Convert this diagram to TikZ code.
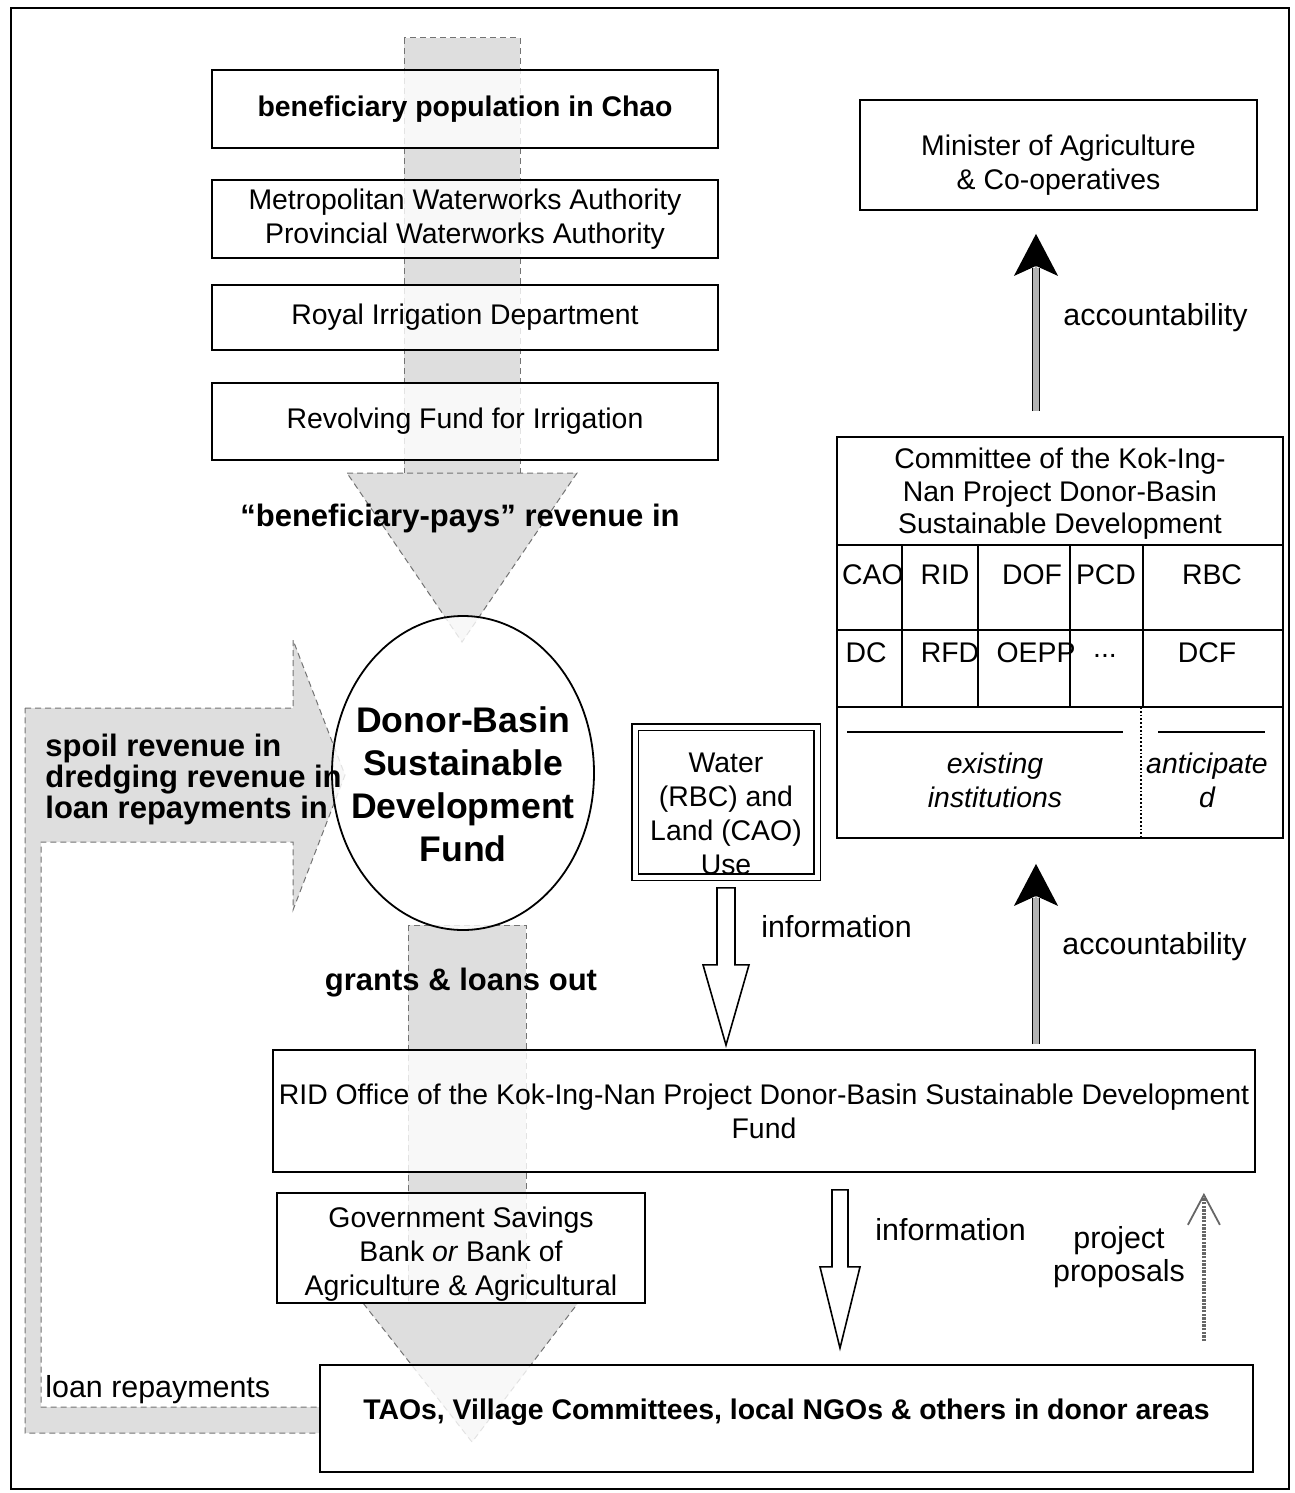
\documentclass[tikz,border=0pt]{standalone}
\usepackage{fontspec}
\setmainfont{Liberation Sans}
\usepackage{tikz}
\usetikzlibrary{arrows.meta,calc,shapes.geometric}

\tikzset{
  box/.style={draw, line width=0.9pt, fill=white, fill opacity=0.8, text opacity=1, align=center, inner sep=0pt, font=\fontsize{14.2}{17}\selectfont},
  boldbox/.style={box, font=\bfseries\fontsize{14.2}{17}\selectfont},
  flow/.style={fill=black!13, draw=black!55, densely dashed, line width=0.5pt},
  flowtext/.style={inner sep=0pt, font=\bfseries\fontsize{15.5}{15.5}\selectfont},
  note/.style={inner sep=0pt, font=\fontsize{15.2}{16.5}\selectfont},
  cell/.style={inner sep=0pt, align=center, font=\fontsize{14.2}{17}\selectfont},
  hollow/.style={draw, line width=0.8pt, fill=white},
  accshaft/.style={draw, line width=0.7pt, double=black!30, double distance=3pt},
  acchead/.style={draw=black!30, line width=0.7pt, -{Stealth[length=21pt,width=22pt,inset=5pt,color=black]}},
  proposal/.style={draw=black!60, line width=1.8pt, dash pattern=on 1.2pt off 0.6pt, -{Straight Barb[length=15pt,width=16pt,line width=0.9pt]}}
}

\begin{document}
\begin{tikzpicture}[x=0.5pt,y=-0.5pt]
  \useasboundingbox (0,0) rectangle (1295,1493);
  \draw[line width=1.2pt] (11,8) rectangle (1289,1489);

  % money running down the middle
  \draw[flow] (404,38) rectangle (520,473);
  \draw[flow] (347,473) -- (577,473) -- (462,642) -- cycle;
  \draw[flow] (408,925) rectangle (526,1303);
  \draw[flow] (363,1303) -- (578,1303) -- (472,1442) -- cycle;
  % revenue in from the left, loan repayments back round
  \draw[flow] (25,708) -- (293,708) -- (293,640) -- (345,775) -- (293,910) -- (293,842) -- (41,842) -- (41,1407) -- (320,1407) -- (320,1433) -- (25,1433) -- cycle;

  \node[boldbox, minimum width=253pt, minimum height=39pt] (benef) at (465,109) {beneficiary population in Chao};
  \node[box, minimum width=253pt, minimum height=39pt] (waterworks) at (465,219) {Metropolitan Waterworks Authority\\Provincial Waterworks Authority};
  \node[box, minimum width=253pt, minimum height=32.5pt] (riddept) at (465,317.5) {Royal Irrigation Department};
  \node[box, minimum width=253pt, minimum height=38.5pt] (revolving) at (465,421.5) {Revolving Fund for Irrigation};

  \node[flowtext] (benpays) at (460,518) {“beneficiary-pays” revenue in};

  \node[ellipse, draw, line width=0.9pt, fill=white, fill opacity=0.8, text opacity=1, minimum width=131pt, minimum height=157pt, inner xsep=-12pt, inner ysep=0pt, align=center, font=\bfseries\fontsize{17.8}{21.5}\selectfont] (fund) at (463,773) {\rule{0pt}{23.8pt}Donor-Basin\\Sustainable\\Development\\Fund};

  \node[flowtext, anchor=west, align=left] (inflow) at (45,779) {spoil revenue in\\dredging revenue in\\loan repayments in};
  \node[flowtext] (grants) at (461,983) {grants \& loans out};
  \node[note, anchor=west] (loanrep) at (45,1390) {loan repayments};

  \node[box, double, double distance=2.5pt, line width=0.8pt, fill opacity=1, minimum width=91pt, minimum height=75pt] (water) at (726,802) {\rule{0pt}{22pt}Water\\(RBC) and\\Land (CAO)\\Use};

  \node[box, minimum width=491pt, minimum height=61pt] (ridoffice) at (764,1111) {RID Office of the Kok-Ing-Nan Project Donor-Basin Sustainable Development\\Fund};
  \node[box, minimum width=184pt, minimum height=55pt] (bank) at (461,1248) {\rule{0pt}{16pt}Government Savings\\Bank \textit{or} Bank of\\Agriculture \& Agricultural};
  \node[boldbox, minimum width=466.5pt, minimum height=53.5pt, text depth=9pt] (taos) at (786.5,1418.5) {TAOs, Village Committees, local NGOs \& others in donor areas};

  \node[box, minimum width=198.5pt, minimum height=55pt] (minister) at (1058.5,155) {\rule{0pt}{20.4pt}Minister of Agriculture\\\& Co-operatives};

  % committee table
  \node[draw, line width=0.9pt, minimum width=223pt, minimum height=200.5pt, inner sep=0pt] (committee) at (1060,637.5) {};
  \node[cell, font=\fontsize{14.2}{16.3}\selectfont] (comhead) at (1060,494) {Committee of the Kok-Ing-\\Nan Project Donor-Basin\\Sustainable Development};
  \draw[line width=0.9pt] (837,545) -- (1283,545) (837,630) -- (1283,630) (837,707) -- (1283,707);
  \draw[line width=0.9pt] (902,545) -- (902,707) (978,545) -- (978,707) (1070,545) -- (1070,707) (1143,545) -- (1143,707);
  \draw[line width=0.9pt, densely dotted] (1141,707) -- (1141,838);
  \draw[line width=0.6pt] (847,732) -- (1123,732) (1158,732) -- (1265,732);
  \node[cell] (cao) at (873,575) {CAO};
  \node[cell] (rid) at (945,575) {RID};
  \node[cell] (dof) at (1032,575) {DOF};
  \node[cell] (pcd) at (1106,575) {PCD};
  \node[cell] (rbc) at (1212,575) {RBC};
  \node[cell] (dc) at (866,653) {DC};
  \node[cell] (rfd) at (950,653) {RFD};
  \node[cell] (oepp) at (1036,653) {OEPP};
  \node[cell] (more) at (1105,656) {...};
  \node[cell] (dcf) at (1207,653) {DCF};
  \node[cell, font=\itshape\fontsize{14.2}{17}\selectfont] (existing) at (995,780) {existing\\institutions};
  \node[cell, font=\itshape\fontsize{14.2}{17}\selectfont] (anticipated) at (1207,780) {anticipate\\d};

  % information arrows
  \coordinate (info1top) at ($(water.south)+(0,10)$);
  \draw[hollow] ($(info1top)+(-9,0)$) -- ($(info1top)+(9,0)$) -- ($(info1top)+(9,77)$) -- ($(info1top)+(23,77)$) -- ($(info1top |- ridoffice.north)+(0,-4)$) -- ($(info1top)+(-23,77)$) -- ($(info1top)+(-9,77)$) -- cycle;
  \node[note, anchor=west] (info1) at (761,927) {information};

  \coordinate (info2top) at ($(ridoffice.south)+(76,17)$);
  \draw[hollow] ($(info2top)+(-8,0)$) -- ($(info2top)+(8,0)$) -- ($(info2top)+(8,77)$) -- ($(info2top)+(20,77)$) -- ($(info2top |- taos.north)+(0,-16)$) -- ($(info2top)+(-20,77)$) -- ($(info2top)+(-8,77)$) -- cycle;
  \node[note, anchor=west] (info2) at (875,1230) {information};

  % accountability arrows
  \coordinate (acc1bot) at ($(committee.north)+(-24,-25)$);
  \coordinate (acc1top) at ($(acc1bot |- minister.south)+(0,23)$);
  \draw[accshaft] (acc1bot) -- ($(acc1top)+(0,34)$);
  \draw[acchead] ($(acc1top)+(0,60)$) -- (acc1top);
  \node[note, anchor=west] (acc1) at (1063,318) {accountability};

  \coordinate (acc2bot) at ($(committee.north |- ridoffice.north)+(-24,-5)$);
  \coordinate (acc2top) at ($(committee.south)+(-24,25)$);
  \draw[accshaft] (acc2bot) -- ($(acc2top)+(0,34)$);
  \draw[acchead] ($(acc2top)+(0,60)$) -- (acc2top);
  \node[note, anchor=west] (acc2) at (1062,947) {accountability};

  % project proposals
  \coordinate (propbot) at ($(taos.north east)+(-50,-23)$);
  \coordinate (proptop) at ($(propbot |- ridoffice.south)+(0,20)$);
  \draw[proposal] (propbot) -- (proptop);
  \node[note, align=center] (proposals) at (1119,1257) {project\\proposals};
\end{tikzpicture}
\end{document}
